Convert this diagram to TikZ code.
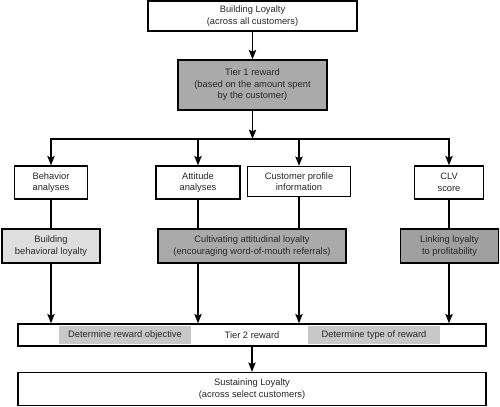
\documentclass[tikz,border=0pt]{standalone}
\usepackage{fontspec}
\setmainfont{Liberation Sans}
\usepackage{xcolor}
\usetikzlibrary{arrows.meta}

\definecolor{txtgray}{RGB}{40,40,40}
\definecolor{midgray}{RGB}{170,170,170}
\definecolor{darkgray}{RGB}{160,160,160}
\definecolor{lightgray}{RGB}{222,222,222}
\definecolor{bandgray}{RGB}{200,200,200}

\begin{document}
\begin{tikzpicture}[x=0.75pt,y=0.75pt,yscale=-1,xscale=1,
  box/.style={draw=black,line width=1pt,fill=white,align=center,inner sep=1pt,
    text=txtgray,font=\fontsize{7}{8.6}\selectfont},
  band/.style={fill=bandgray,inner sep=0pt,text=txtgray,font=\fontsize{7}{8.6}\selectfont},
  arw/.style={line width=1pt,-{Stealth[length=7pt,width=5.5pt,inset=1.2pt]}},
  ln/.style={line width=1pt}]
\useasboundingbox (0,0) rectangle (500,407);

% Text Node
\node [box,minimum width=156.75pt,minimum height=22.5pt] (build) at (252.5,16) {Building Loyalty\\(across all customers)};
% Text Node
\node [box,fill=midgray,minimum width=111.75pt,minimum height=37.5pt] (tierone) at (252.5,85) {Tier 1 reward\\(based on the amount spent\\by the customer)};

% Text Node
\node [box,minimum width=54.75pt,minimum height=24.75pt] (behav) at (51,182.5) {Behavior\\analyses};
% Text Node
\node [box,minimum width=63pt,minimum height=24.75pt] (attit) at (198,182.5) {Attitude\\analyses};
% Text Node
\node [box,minimum width=77.25pt,minimum height=22.5pt] (cprof) at (299,181.5) {Customer profile\\information};
% Text Node
\node [box,minimum width=51.75pt,minimum height=24.75pt] (clv) at (449,182.5) {CLV\\score};

% Text Node
\node [box,fill=lightgray,minimum width=73.5pt,minimum height=25.5pt] (behloy) at (51,246) {Building\\behavioral loyalty};
% Text Node
\node [box,fill=midgray,minimum width=141pt,minimum height=25.5pt] (attloy) at (252,246) {Cultivating attitudinal loyalty\\(encouraging word-of-mouth referrals)};
% Text Node
\node [box,fill=darkgray,minimum width=73.5pt,minimum height=25.5pt] (profloy) at (449.5,246) {Linking loyalty\\to profitability};

% Text Node
\node [box,minimum width=351pt,minimum height=16.5pt] (tiertwo) at (252,335) {Tier 2 reward};
\node [band,minimum width=99pt,minimum height=13.5pt] (objective) at (125,335) {Determine reward objective};
\node [band,minimum width=99pt,minimum height=13.5pt] (rewtype) at (374,335) {Determine type of reward};

% Text Node
\node [box,minimum width=351pt,minimum height=24.75pt] (sustain) at (252,389) {Sustaining Loyalty\\(across select customers)};

\coordinate (split) at (252.5,139);

%Straight Lines
\draw [arw] (build) -- (tierone);
\draw [arw] (tierone) -- (split);
\draw [arw] (split) -| (behav.north);
\draw [arw] (split) -| (attit.north);
\draw [arw] (split) -| (cprof.north);
\draw [arw] (split) -| (clv.north);

%Straight Lines
\draw [ln] (behav.south) -- (behav.south |- behloy.north);
\draw [ln] (attit.south) -- (attit.south |- attloy.north);
\draw [ln] (cprof.south) -- (cprof.south |- attloy.north);
\draw [ln] (clv.south) -- (clv.south |- profloy.north);

%Straight Lines
\draw [arw] (behloy.south) -- (behloy.south |- tiertwo.north);
\draw [arw] (attit.south |- attloy.south) -- (attit.south |- tiertwo.north);
\draw [arw] (cprof.south |- attloy.south) -- (cprof.south |- tiertwo.north);
\draw [arw] (clv.south |- profloy.south) -- (clv.south |- tiertwo.north);
\draw [arw] (tiertwo) -- (sustain);

\end{tikzpicture}
\end{document}
